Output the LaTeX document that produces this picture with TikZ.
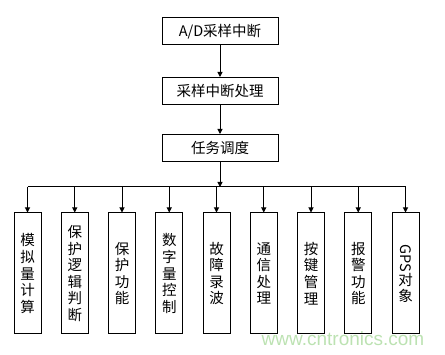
\documentclass[tikz,border=0pt]{standalone}
\usepackage{fontspec}
\setmainfont{Noto Sans CJK SC}
\newfontfamily\markfont{Liberation Sans}
\usetikzlibrary{arrows.meta}
\definecolor{markgreen}{RGB}{188,226,178}
\tikzset{
  flowbox/.style={draw,line width=1pt,minimum width=116pt,minimum height=27pt,inner sep=0pt,font=\fontsize{14.5}{17}\selectfont},
  taskbox/.style={draw,line width=1pt,minimum width=27pt,minimum height=121pt,inner sep=0pt,align=center,font=\fontsize{14.5}{16.6}\selectfont},
  arr/.style={line width=1pt,-{Triangle[width=5pt,length=5pt]}}
}
\begin{document}
\begin{tikzpicture}[x=1pt,y=-1pt]
    \useasboundingbox (0,0) rectangle (445,355);
    % main chain
    \node[flowbox] (ad) at (220,31.5) {A/D采样中断};
    \node[flowbox] (proc) at (220,91) {采样中断处理};
    \node[flowbox] (sched) at (220,148) {任务调度};
    \draw[arr] (ad) -- (proc);
    \draw[arr] (proc) -- (sched);
    \coordinate (bus) at (220,187);
    \draw[arr] (sched) -- (bus);
    % task modules
    \foreach \i/\x/\txt in {1/27.5/{模\\拟\\量\\计\\算},
                            2/74.75/{保\\护\\逻\\辑\\判\\断},
                            3/122/{保\\护\\功\\能},
                            4/169.25/{数\\字\\量\\控\\制},
                            5/216.5/{故\\障\\录\\波},
                            6/263.75/{通\\信\\处\\理},
                            7/311/{按\\键\\管\\理},
                            8/358.25/{报\\警\\功\\能},
                            9/405.5/{\rotatebox{-90}{GPS}\\对\\象}}
      \node[taskbox] (m\i) at (\x,273.5) {\txt};
    \draw[line width=1pt] (m1.north |- bus) -- (m9.north |- bus);
    \foreach \i in {1,...,9}
      \draw[arr] (m\i.north |- bus) -- (m\i.north);
    % watermark
    \node[text=markgreen,font=\markfont\fontsize{19}{19}\selectfont] (mark) at (343,339) {www.cntronics.com};
\end{tikzpicture}
\end{document}
